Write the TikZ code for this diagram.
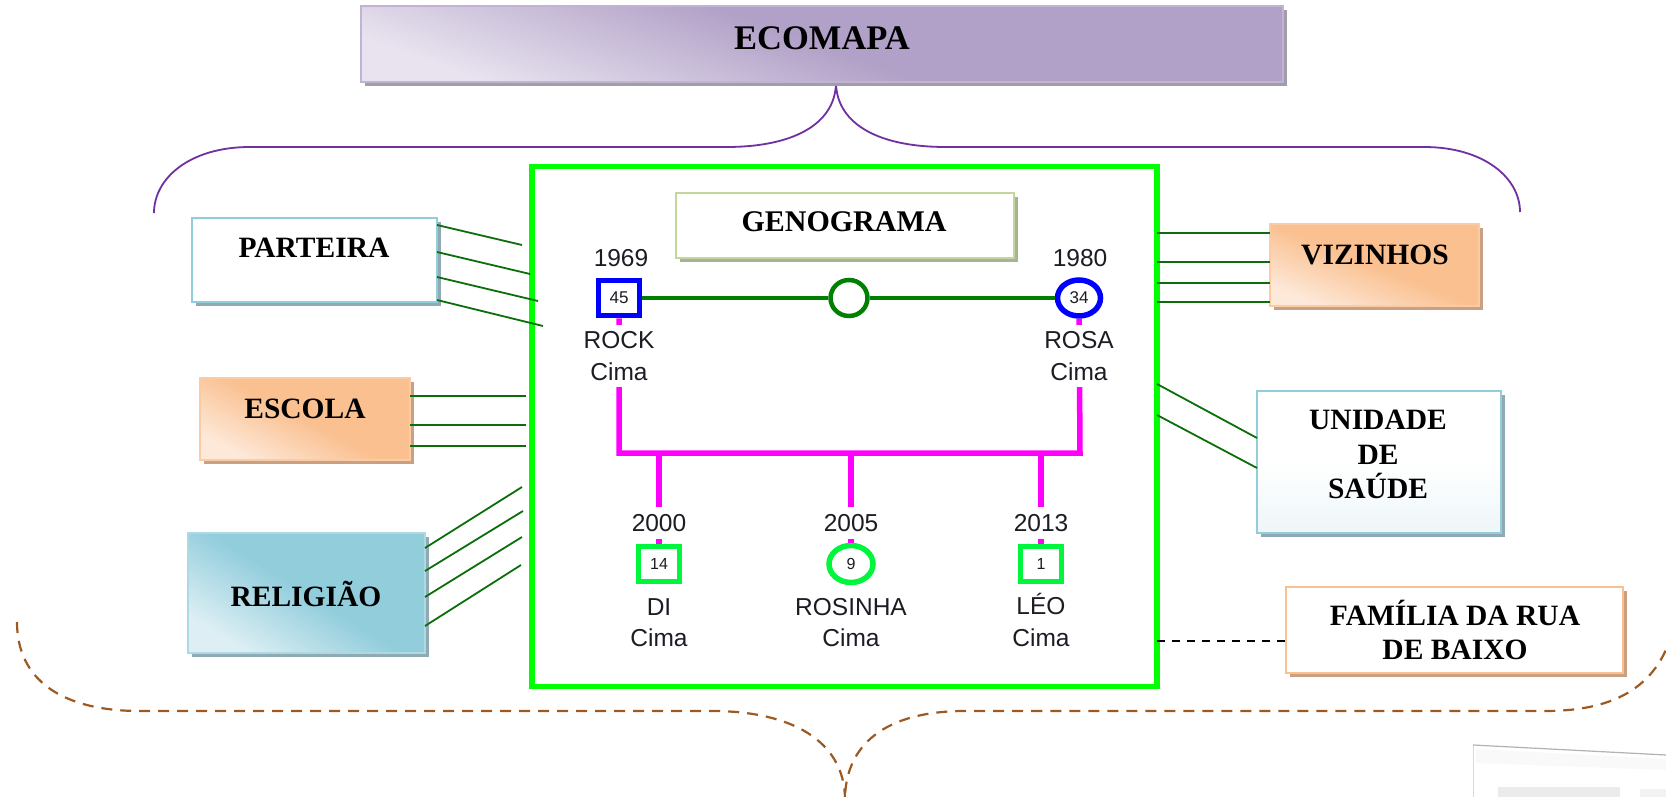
\documentclass[tikz,border=0pt]{standalone}
\usepackage{fontspec}
\setmainfont{Liberation Serif}
\newfontfamily\genofont{Liberation Sans}
\usetikzlibrary{shapes.geometric,shadows}

\definecolor{ecopurple}{HTML}{B1A0C7}
\definecolor{ecopurplelight}{HTML}{E8E3EF}
\definecolor{ecopurpleshadow}{HTML}{A19DA9}
\definecolor{bracepurple}{HTML}{7030A0}
\definecolor{peach}{HTML}{FAC090}
\definecolor{peachlight}{HTML}{FDE9D9}
\definecolor{peachedge}{HTML}{FBCCA4}
\definecolor{peachshadow}{HTML}{C9A182}
\definecolor{aqua}{HTML}{92CDDC}
\definecolor{aqualight}{HTML}{DDEFF4}
\definecolor{aquapale}{HTML}{EEF6F9}
\definecolor{aquashadow}{HTML}{8FAAB3}
\definecolor{olive}{HTML}{C3D69B}
\definecolor{oliveshadow}{HTML}{A9B294}
\definecolor{framegreen}{HTML}{00FF00}
\definecolor{kidgreen}{HTML}{00F53D}
\definecolor{tiegreen}{HTML}{0B6E0B}
\definecolor{marrygreen}{HTML}{008000}
\definecolor{lineblue}{HTML}{0000FF}
\definecolor{linkpink}{HTML}{FF00FF}
\definecolor{bracebrown}{HTML}{9C5A22}
\definecolor{genotext}{HTML}{1C1C24}

\begin{document}
\begin{tikzpicture}[x=1pt, y=-1pt,
  card/.style={rectangle, inner sep=0pt, outer sep=0pt, line width=1.6pt,
    drop shadow={shadow xshift=4pt, shadow yshift=-4pt, fill=#1, opacity=1}},
  boxlabel/.style={font=\bfseries\fontsize{29.5}{34.5}\selectfont, align=center, inner sep=0pt},
  onelabel/.style={boxlabel, text height=19.5pt, text depth=0pt},
  tie/.style={draw=tiegreen, line width=1.8pt},
  weak/.style={draw=black, line width=1.4pt, dash pattern=on 8pt off 7pt},
  brace/.style={draw=bracepurple, line width=1.8pt},
  dashbrace/.style={draw=bracebrown, line width=2.2pt, dash pattern=on 11pt off 8pt},
  genolab/.style={font=\genofont\fontsize{24.5}{31.5}\selectfont, text=genotext, align=center, inner sep=0pt},
  yearlab/.style={genolab, fill=white, inner xsep=2pt, inner ysep=7pt, text height=17.5pt, text depth=0pt},
  namelab/.style={genolab, fill=white, inner xsep=2pt, inner ysep=7pt},
  symtext/.style={font=\genofont\fontsize{16}{16}\selectfont, text=genotext},
  male/.style={rectangle, draw=#1, line width=5.5pt, fill=white, inner sep=0pt,
    minimum width=41pt, minimum height=35pt, symtext},
  female/.style={ellipse, draw=#1, line width=5.5pt, fill=white, inner sep=0pt,
    minimum width=43pt, minimum height=36pt, symtext},
  pinkline/.style={draw=linkpink, line width=5.5pt, line join=miter},
  marry/.style={draw=marrygreen, line width=4.5pt},
  glow/.style={shading angle=#1}
]
\useasboundingbox (0,0) rectangle (1666,797);
\fill[white] (0,0) rectangle (1666,797);

% ---------- outer braces ----------
\coordinate (tb-l) at (154,213);
\coordinate (tb-apex) at (836,82);
\coordinate (tb-r) at (1520,212);
\draw[brace] (tb-l) .. controls (154,178) and (190,147) .. (250,147) -- (726,147)
  .. controls (800,147) and (836,120) .. (tb-apex)
  .. controls (836,120) and (872,147) .. (946,147) -- (1424,147)
  .. controls (1484,147) and (1520,178) .. (tb-r);

\coordinate (bb-l) at (17,622);
\coordinate (bb-apex) at (845,800);
\coordinate (bb-r) at (1668,645);
\draw[dashbrace] (bb-l) .. controls (17,680) and (62,711) .. (140,711) -- (712,711)
  .. controls (790,711) and (845,740) .. (bb-apex)
  .. controls (845,745) and (885,711) .. (965,711) -- (1545,711)
  .. controls (1610,711) and (1650,690) .. (bb-r);

% ---------- title ----------
\node[card=ecopurpleshadow, draw=ecopurple!80!white,
  top color=ecopurple, bottom color=ecopurplelight, middle color=ecopurple, glow=-20,
  minimum width=922pt, minimum height=76pt] (ecomapa) at (822,44) {};
\node[font=\bfseries\fontsize{34.5}{34.5}\selectfont, inner sep=0pt, text height=23pt, text depth=0pt]
  (ecomapa-t) at (822,38) {ECOMAPA};

% ---------- genogram frame ----------
\node[draw=framegreen, line width=5.5pt, minimum width=625pt, minimum height=520pt, inner sep=0pt]
  (frame) at (844.5,426.5) {};
\node[card=oliveshadow, draw=olive, fill=white, minimum width=338pt, minimum height=65pt]
  (genograma) at (845,225.5) {};
\node[onelabel, font=\bfseries\fontsize{30}{30}\selectfont] (genograma-t) at (844,222) {GENOGRAMA};

% ---------- surrounding systems ----------
\node[card=aquashadow, draw=aqua, fill=white, minimum width=245pt, minimum height=84pt]
  (parteira) at (314.5,260) {};
\node[onelabel] (parteira-t) at (314,248) {PARTEIRA};

\node[card=peachshadow, draw=peachedge, top color=peach, bottom color=peachlight, middle color=peach,
  glow=-28, minimum width=210pt, minimum height=82pt] (escola) at (305,419) {};
\node[onelabel] (escola-t) at (305,409) {ESCOLA};

\node[card=aquashadow, draw=aqua!75!white, top color=aqua, bottom color=aqualight, middle color=aqua,
  glow=-32, minimum width=237pt, minimum height=120pt] (religiao) at (306.5,593) {};
\node[onelabel] (religiao-t) at (306,597) {RELIGIÃO};

\node[card=peachshadow, draw=peachedge, top color=peach, bottom color=peachlight, middle color=peach,
  glow=-22, minimum width=209pt, minimum height=82pt] (vizinhos) at (1374.5,265) {};
\node[onelabel] (vizinhos-t) at (1375,255) {VIZINHOS};

\node[card=aquashadow, draw=aqua, top color=white, bottom color=aquapale, middle color=white,
  minimum width=244pt, minimum height=142pt] (unidade) at (1379,462) {};
\node[boxlabel] (unidade-t) at (1378,454.5) {UNIDADE\\DE\\SAÚDE};

\node[card=peachshadow, draw=peach, fill=white, minimum width=337pt, minimum height=86pt]
  (familia) at (1454.5,630) {};
\node[boxlabel] (familia-t) at (1455,630) {FAMÍLIA DA RUA\\DE BAIXO};

% ---------- ties to the family ----------
\coordinate (pt1) at (522,245);
\coordinate (pt2) at (530,274);
\coordinate (pt3) at (538,301);
\coordinate (pt4) at (543,326);
\draw[tie] ([yshift=-7pt]parteira.north east) -- (pt1);
\draw[tie] ([yshift=-34pt]parteira.north east) -- (pt2);
\draw[tie] ([yshift=-59pt]parteira.north east) -- (pt3);
\draw[tie] ([yshift=-82pt]parteira.north east) -- (pt4);

\coordinate (es1) at (526,396);
\coordinate (es2) at (526,425);
\coordinate (es3) at (526,446);
\draw[tie] ([yshift=-18pt]escola.north east) -- (es1);
\draw[tie] ([yshift=-47pt]escola.north east) -- (es2);
\draw[tie] ([yshift=-68pt]escola.north east) -- (es3);

\coordinate (re1) at (522,487);
\coordinate (re2) at (523,511);
\coordinate (re3) at (522,537);
\coordinate (re4) at (521,565);
\draw[tie] ([yshift=-15pt]religiao.north east) -- (re1);
\draw[tie] ([yshift=-38pt]religiao.north east) -- (re2);
\draw[tie] ([yshift=-64pt]religiao.north east) -- (re3);
\draw[tie] ([yshift=-93pt]religiao.north east) -- (re4);

\coordinate (vz1) at (1157,233);
\coordinate (vz2) at (1157,262);
\coordinate (vz3) at (1157,283);
\coordinate (vz4) at (1157,302);
\draw[tie] (vz1) -- ([yshift=-9pt]vizinhos.north west);
\draw[tie] (vz2) -- ([yshift=-38pt]vizinhos.north west);
\draw[tie] (vz3) -- ([yshift=-59pt]vizinhos.north west);
\draw[tie] (vz4) -- ([yshift=-78pt]vizinhos.north west);

\coordinate (un1) at (1157,384);
\coordinate (un2) at (1157,415);
\draw[tie] (un1) -- ([yshift=-47pt]unidade.north west);
\draw[tie] (un2) -- ([yshift=-77pt]unidade.north west);

\coordinate (fa1) at (1157,641);
\draw[weak] (fa1) -- ([yshift=-11pt]familia.west);

% ---------- genogram ----------
\node[male=lineblue, font=\genofont\fontsize{17}{17}\selectfont] (rock) at (619,298) {45};
\node[female=lineblue, font=\genofont\fontsize{17}{17}\selectfont] (rosa) at (1079,298) {34};
\node[ellipse, draw=marrygreen, line width=4.5pt, fill=white, inner sep=0pt,
  minimum width=37pt, minimum height=36pt] (union) at (849,298) {};
\draw[marry] (rock) -- (union);
\draw[marry] (union) -- (rosa);

\node[male=kidgreen] (di) at (659,564) {14};
\node[female=kidgreen, minimum width=44pt, minimum height=37pt] (rosinha) at (851,564) {9};
\node[male=kidgreen] (leo) at (1041,564) {1};

\coordinate (bar-l) at (619,453);
\coordinate (bar-r) at (1080,453);
\coordinate (drop-di) at (659,453);
\coordinate (drop-rosinha) at (851,453);
\coordinate (drop-leo) at (1041,453);
\draw[pinkline] (rock) -- (bar-l) -- (bar-r) -- (rosa);
\draw[pinkline] (drop-di) -- (di);
\draw[pinkline] (drop-rosinha) -- (rosinha);
\draw[pinkline] (drop-leo) -- (leo);

\node[yearlab, fill=none] (y-rock) at (621,258) {1969};
\node[yearlab, fill=none] (y-rosa) at (1080,258) {1980};
\node[namelab] (n-rock) at (619,356) {ROCK\\Cima};
\node[namelab] (n-rosa) at (1079,356) {ROSA\\Cima};

\node[yearlab] (y-di) at (659,523) {2000};
\node[yearlab] (y-rosinha) at (851,523) {2005};
\node[yearlab] (y-leo) at (1041,523) {2013};
\node[namelab] (n-di) at (659,622.5) {DI\\Cima};
\node[namelab] (n-rosinha) at (851,622.5) {ROSINHA\\Cima};
\node[namelab] (n-leo) at (1041,620) {LÉO\\Cima};

% ---------- framed sheet at the lower right edge ----------
\fill[white] (1473,745) -- (1666,755) -- (1666,797) -- (1473,797) -- cycle;
\fill[gray!5] (1476,749) -- (1666,759) -- (1666,770) -- (1476,763) -- cycle;
\fill[gray!16] (1498,787) rectangle (1620,797);
\fill[gray!10] (1640,789) rectangle (1666,797);
\draw[gray!30, line width=1pt] (1473,797) -- (1473,745);
\draw[gray!60, line width=1.2pt] (1473,745) -- (1666,755);
\end{tikzpicture}
\end{document}
